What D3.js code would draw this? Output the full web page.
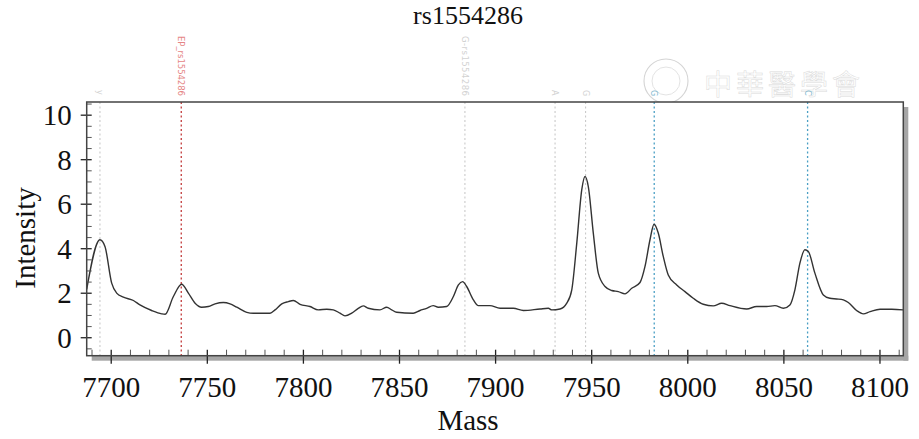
<!DOCTYPE html>
<html><head><meta charset="utf-8">
<script src="https://cdn.jsdelivr.net/npm/d3@7/dist/d3.min.js"></script>
<style>body{margin:0;background:#fff}svg{display:block}</style>
</head><body><svg id="c" width="919" height="439"></svg>
<script>
const title = "rs1554286";
const xLabel = "Mass";
const yLabel = "Intensity";
const xTicks = [7700,7750,7800,7850,7900,7950,8000,8050,8100];
const yTicks = [0,2,4,6,8,10];
const mass = [7687.5,7694.4,7697.0,7700.5,7703.1,7706.6,7711.8,7715.2,7721.3,7726.5,7728.3,7732.6,7736.9,7740.4,7743.9,7747.3,7750.8,7754.3,7758.6,7762.1,7765.6,7770.8,7774.2,7782.9,7785.5,7789.0,7792.4,7795.0,7798.5,7803.7,7808.0,7812.4,7815.8,7819.3,7821.9,7825.4,7828.8,7831.4,7834.0,7840.1,7843.6,7846.2,7848.8,7857.4,7860.9,7864.4,7867.8,7870.4,7874.8,7878.3,7880.9,7883.1,7885.2,7888.7,7891.3,7897.3,7902.6,7909.5,7914.7,7923.4,7927.7,7929.5,7933.8,7937.3,7939.9,7942.5,7945.1,7946.8,7948.5,7951.1,7953.7,7957.2,7960.7,7964.1,7967.6,7971.1,7975.4,7978.0,7980.6,7982.7,7984.9,7987.5,7990.1,7994.5,7998.8,8003.1,8008.3,8013.5,8017.9,8022.2,8030.9,8036.1,8041.3,8045.6,8050.0,8053.4,8056.0,8058.6,8061.2,8063.0,8066.4,8070.8,8074.2,8077.7,8081.2,8083.8,8088.1,8091.6,8095.1,8100.3,8106.4,8112.4];
const intensity = [2.15,4.38,4.08,2.43,1.98,1.80,1.65,1.45,1.20,1.05,1.03,1.83,2.38,1.98,1.53,1.35,1.38,1.50,1.56,1.50,1.35,1.12,1.08,1.08,1.23,1.50,1.60,1.65,1.48,1.38,1.23,1.26,1.23,1.08,0.96,1.08,1.30,1.41,1.30,1.23,1.35,1.23,1.12,1.08,1.20,1.30,1.42,1.35,1.38,1.83,2.35,2.50,2.28,1.68,1.42,1.42,1.30,1.30,1.20,1.27,1.30,1.23,1.27,1.53,2.13,4.23,6.63,7.22,6.77,4.68,2.88,2.28,2.10,2.05,1.95,2.20,2.46,3.18,4.38,5.08,4.68,3.63,2.80,2.35,2.05,1.75,1.48,1.41,1.53,1.42,1.27,1.38,1.38,1.42,1.30,1.45,2.13,3.33,3.93,3.85,2.88,1.90,1.75,1.72,1.68,1.56,1.20,1.05,1.15,1.26,1.26,1.23];
const markerMass = [7694.4,7736.7,7884.3,7931.2,7947.1,7982.8,8062.6];
const markerLabel = ["y","EP_rs1554286","G-rs1554286","A","G","G","C"];
const markerKind = ["grey","red","grey","grey","grey","blue","blue"];

const svg = d3.select("#c");
const L=86.7, R=903.3, T=102, B=355.7;
const x = d3.scaleLinear().domain([7687.5,8112.4]).range([L,R]);
const y = d3.scaleLinear().domain([-0.83,10.57]).range([B,T]);
const serif = "'Liberation Serif','Times New Roman',serif";
const colors = {grey:"#c4c4c4", red:"#c23a3a", blue:"#4a9fc4"};
const labColors = {grey:"#d2d2d2", red:"#e58585", blue:"#80b8cf"};

// watermark
const wm = svg.append("g");
wm.append("circle").attr("cx",666).attr("cy",81).attr("r",22).attr("fill","none").attr("stroke","#d4d4d4").attr("stroke-width",1.1);
wm.append("circle").attr("cx",666).attr("cy",81).attr("r",14).attr("fill","none").attr("stroke","#e0e0e0").attr("stroke-width",0.9);
wm.append("text").attr("x",704).attr("y",95).text("中華醫學會")
  .attr("font-family","'Noto Sans CJK TC','Noto Sans CJK SC',sans-serif").attr("font-size",28)
  .attr("letter-spacing",4).attr("fill","#fff").attr("stroke","#dadada").attr("stroke-width",0.5);

// shadow
svg.append("rect").attr("x",R).attr("y",T+5).attr("width",5).attr("height",B-T).attr("fill","#a6a6a6");
svg.append("rect").attr("x",L+5).attr("y",B).attr("width",R-L).attr("height",5).attr("fill","#a6a6a6");
svg.append("rect").attr("x",L).attr("y",T).attr("width",R-L).attr("height",B-T).attr("fill","#fff");

// markers
markerMass.forEach((m,i)=>{
  const k = markerKind[i];
  svg.append("line").attr("x1",x(m)).attr("x2",x(m)).attr("y1",T).attr("y2",B)
    .attr("stroke",colors[k]).attr("stroke-width",k==="grey"?1:1.3).attr("stroke-dasharray","2,2.5");
  const long = markerLabel[i].length>2;
  svg.append("text").attr("transform",`translate(${x(m)-3},${long?36:90}) rotate(90)`)
    .text(markerLabel[i]).attr("font-family","'DejaVu Sans',sans-serif").attr("font-size",long?8.5:8)
    .attr("textLength",long?60:null).attr("fill",labColors[k]);
});

// line
svg.append("path").datum(mass.map((m,i)=>[m,intensity[i]]))
  .attr("d",d3.line().x(d=>x(d[0])).y(d=>y(d[1])).curve(d3.curveMonotoneX))
  .attr("fill","none").attr("stroke","#333").attr("stroke-width",1.4).attr("stroke-linejoin","round");

// minor ticks
const yMinor = d3.range(-0.5,10.51,0.5).filter(v=>Math.abs(v%2)>0.01);
svg.append("g").attr("transform",`translate(${L},0)`)
  .call(d3.axisLeft(y).tickValues(yMinor).tickSize(-5).tickFormat(""))
  .call(g=>g.select(".domain").remove()).selectAll("line").attr("stroke","#555");
const xMinor = d3.range(7690,8111,10).filter(v=>v%50!==0);
svg.append("g").attr("transform",`translate(0,${B})`)
  .call(d3.axisBottom(x).tickValues(xMinor).tickSize(-6).tickFormat(""))
  .call(g=>g.select(".domain").remove()).selectAll("line").attr("stroke","#555");

// major axes
const ya = svg.append("g").attr("transform",`translate(${L},0)`)
  .call(d3.axisLeft(y).tickValues(yTicks).tickFormat(d3.format("d")).tickSizeOuter(0).tickSize(6));
ya.select(".domain").remove();
ya.selectAll("line").attr("x1",5).attr("x2",-6).attr("stroke","#222").attr("stroke-width",1.3);
ya.selectAll("text").attr("x",-15).attr("dy","0.34em").attr("font-family",serif).attr("font-size",29).attr("fill","#111");

const xa = svg.append("g").attr("transform",`translate(0,${B})`)
  .call(d3.axisBottom(x).tickValues(xTicks).tickFormat(d3.format("d")).tickSizeOuter(0).tickSize(8));
xa.select(".domain").remove();
xa.selectAll("line").attr("y1",-6).attr("y2",8).attr("stroke","#222").attr("stroke-width",1.3);
xa.selectAll("text").attr("y",41).attr("dy",0).attr("font-family",serif).attr("font-size",29).attr("fill","#111");

// frame
svg.append("rect").attr("x",L).attr("y",T).attr("width",R-L).attr("height",B-T)
  .attr("fill","none").attr("stroke","#444").attr("stroke-width",1.5);

// texts
svg.append("text").attr("x",468).attr("y",24).attr("text-anchor","middle").text(title)
  .attr("font-family",serif).attr("font-size",26).attr("fill","#111");
svg.append("text").attr("x",468).attr("y",430).attr("text-anchor","middle").text(xLabel)
  .attr("font-family",serif).attr("font-size",29).attr("fill","#111");
svg.append("text").attr("transform","translate(35,238) rotate(-90)").attr("text-anchor","middle").text(yLabel)
  .attr("font-family",serif).attr("font-size",29).attr("fill","#111");
</script></body></html>
